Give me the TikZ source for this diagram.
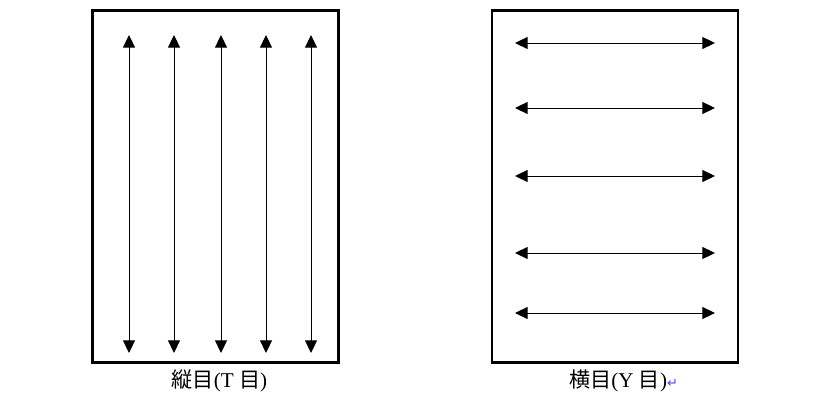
\documentclass[tikz,border=0pt]{standalone}
\usepackage{fontspec}
\setmainfont{Liberation Serif}
\newfontfamily\jpfont{Noto Sans CJK JP}
\newfontfamily\markfont{DejaVu Sans}
\usetikzlibrary{arrows.meta}

\begin{document}
\begin{tikzpicture}[x=0.03cm,y=-0.03cm,
        frame/.style={draw=black, line width=2.1pt},
        grain/.style={line width=0.8pt,
        {Triangle[length=0.38cm,width=0.36cm]}-{Triangle[length=0.38cm,width=0.36cm]}},
        caption/.style={font=\fontsize{18}{21}\selectfont, inner sep=0pt},
        ]
        \useasboundingbox (0,0) rectangle (830,400);

        % the two sheets
        \node (tbox) [frame, minimum width=7.38cm, minimum height=10.56cm] at (215.5,186.5){};
        \node (ybox) [frame, minimum width=7.38cm, minimum height=10.56cm] at (615,186.5){};

        % vertical grain
        \coordinate (t1a) at (129,35);  \coordinate (t1b) at (129,353);
        \coordinate (t2a) at (174,35);  \coordinate (t2b) at (174,353);
        \coordinate (t3a) at (221,35);  \coordinate (t3b) at (221,353);
        \coordinate (t4a) at (266,35);  \coordinate (t4b) at (266,353);
        \coordinate (t5a) at (311,35);  \coordinate (t5b) at (311,353);

        % horizontal grain
        \coordinate (y1a) at (515,43);  \coordinate (y1b) at (715,43);
        \coordinate (y2a) at (515,108); \coordinate (y2b) at (715,108);
        \coordinate (y3a) at (515,176); \coordinate (y3b) at (715,176);
        \coordinate (y4a) at (515,253); \coordinate (y4b) at (715,253);
        \coordinate (y5a) at (515,313); \coordinate (y5b) at (715,313);

        \draw[grain] (t1a) -- (t1b);
        \draw[grain] (t2a) -- (t2b);
        \draw[grain] (t3a) -- (t3b);
        \draw[grain] (t4a) -- (t4b);
        \draw[grain] (t5a) -- (t5b);

        \draw[grain] (y1a) -- (y1b);
        \draw[grain] (y2a) -- (y2b);
        \draw[grain] (y3a) -- (y3b);
        \draw[grain] (y4a) -- (y4b);
        \draw[grain] (y5a) -- (y5b);

        \node (tlabel) [caption] at (219.5,381) {{\jpfont 縦目}(T {\jpfont 目})};
        \node (ylabel) [caption, anchor=west] at (569,381)
        {{\jpfont 横目}(Y {\jpfont 目}){\markfont\fontsize{11}{13}\selectfont\color{blue!75}↵}};
    \end{tikzpicture}
\end{document}
